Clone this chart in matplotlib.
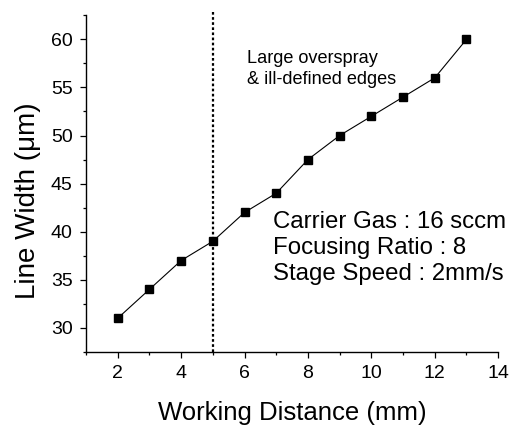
import matplotlib
matplotlib.use("Agg")
import matplotlib.pyplot as plt
from matplotlib.ticker import MultipleLocator

# line width vs working distance
distance = [2, 3, 4, 5, 6, 7, 8, 9, 10, 11, 12, 13]
line_width = [31, 34, 37, 39, 42, 44, 47.5, 50, 52, 54, 56, 60]
cutoff_distance = 5

note_top = "Large overspray\n& ill-defined edges"
note_cond = "Carrier Gas : 16 sccm\nFocusing Ratio : 8\nStage Speed : 2mm/s"

plt.rcParams['font.family'] = ['Liberation Sans', 'DejaVu Sans']

fig = plt.figure(figsize=(5.12, 4.26), dpi=100)
ax = fig.add_axes([0.168, 0.174, 0.805, 0.79])

ax.plot(distance, line_width, color='black', lw=0.8, marker='s', ms=5.5,
        markerfacecolor='black', markeredgecolor='black')
ax.plot([cutoff_distance, cutoff_distance], [27.5, 62.8], color='black',
        lw=1.6, linestyle=(0, (1.2, 1.1)), clip_on=False)

ax.set_xlim(1, 14)
ax.set_ylim(27.5, 62.5)
ax.xaxis.set_major_locator(MultipleLocator(2))
ax.xaxis.set_minor_locator(MultipleLocator(1))
ax.yaxis.set_major_locator(MultipleLocator(5))
ax.yaxis.set_minor_locator(MultipleLocator(2.5))

for side in ['top', 'right']:
    ax.spines[side].set_visible(False)
for side in ['left', 'bottom']:
    ax.spines[side].set_linewidth(1.0)

ax.tick_params(which='major', direction='out', length=4.5, width=0.9,
               labelsize=14, pad=5)
ax.tick_params(which='minor', direction='out', length=2.5, width=0.9)

ax.set_xlabel("Working Distance (mm)", fontsize=18.5, labelpad=13.5)
ax.set_ylabel("Line Width (\u03bcm)", fontsize=20)
ax.yaxis.set_label_coords(-0.11, 0.45)

ax.text(6.08, 58.85, note_top, fontsize=13.1, va='top', ha='left',
        linespacing=1.3)
ax.text(6.9, 42.2, note_cond, fontsize=17.3, va='top', ha='left',
        linespacing=1.26)

fig.savefig("out.png", dpi=100)
plt.close(fig)
